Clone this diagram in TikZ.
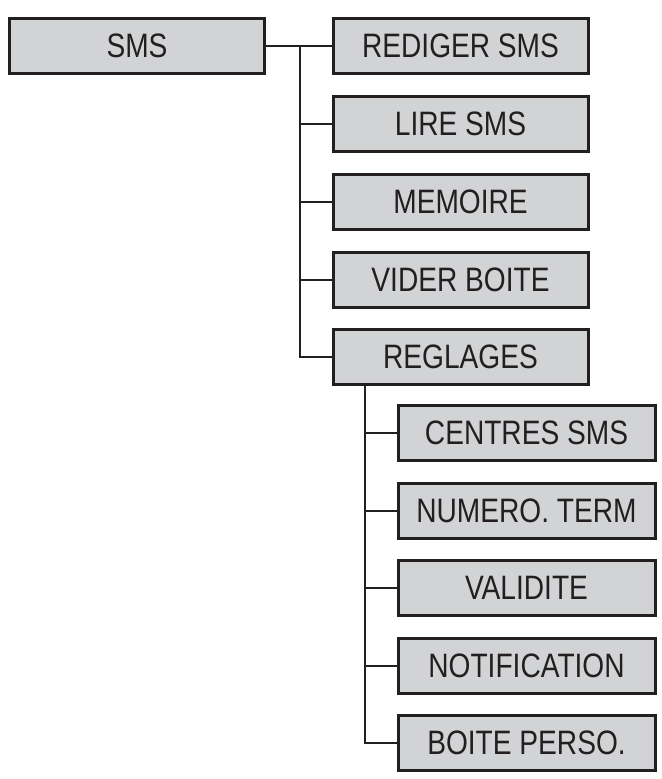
\documentclass[tikz,border=0pt]{standalone}
\usepackage{fontspec}
\setmainfont{Liberation Sans}
\usepackage{graphicx}
\definecolor{boxgray}{RGB}{210,211,213}
\definecolor{ink}{RGB}{35,31,32}
\begin{document}
\begin{tikzpicture}[x=1bp,y=-1bp,
  mbox/.style={draw=ink,line width=3bp,fill=boxgray,minimum height=55bp,inner sep=0pt,
    font=\fontsize{34}{34}\selectfont,text=ink},
  w1/.style={mbox,minimum width=255bp},
  w2/.style={mbox,minimum width=257bp},
  conn/.style={draw=ink,line width=2bp}]
\useasboundingbox (0,0) rectangle (662,779);
\newcommand{\nl}[1]{\scalebox{0.83}[1]{#1}}
\node[w1] (sms) at (137,46) {\nl{SMS}};
\node[w1] (a) at (460.5,46) {\nl{REDIGER SMS}};
\node[w1] (b) at (460.5,124) {\nl{LIRE SMS}};
\node[w1] (c) at (460.5,202) {\nl{MEMOIRE}};
\node[w1] (d) at (460.5,280) {\nl{VIDER BOITE}};
\node[w1] (e) at (460.5,357) {\nl{REGLAGES}};
\node[w2] (f) at (526.5,433) {\nl{CENTRES SMS}};
\node[w2] (g) at (526.5,511) {\nl{NUMERO. TERM}};
\node[w2] (h) at (526.5,588) {\nl{VALIDITE}};
\node[w2] (i) at (526.5,666) {\nl{NOTIFICATION}};
\node[w2] (j) at (526.5,743) {\nl{BOITE PERSO.}};
\coordinate (v1) at (300,46);
\coordinate (v2) at (365,0);
\draw[conn] (sms.east) -- (a.west);
\foreach \n in {b,c,d,e}{\draw[conn] (v1) |- (\n.west);}
\foreach \n in {f,g,h,i,j}{\draw[conn] (e.south -| v2) |- (\n.west);}
\end{tikzpicture}
\end{document}
